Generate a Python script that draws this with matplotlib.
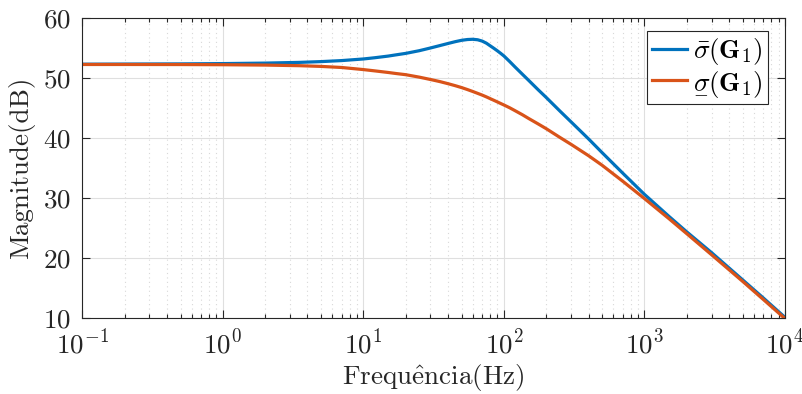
import numpy as np
import matplotlib
matplotlib.use("Agg")
import matplotlib.pyplot as plt
from matplotlib.ticker import LogLocator, NullFormatter

plt.rcParams['font.family'] = ['cmr10', 'DejaVu Serif']
plt.rcParams['mathtext.fontset'] = 'cm'
plt.rcParams['axes.formatter.use_mathtext'] = True

# Frequency samples (Hz)
freq = [0.1, 0.2, 0.5, 1, 2, 3.5, 5, 7, 10, 12, 15, 17, 20, 25, 30, 35, 40, 45,
        50, 55, 60, 65, 70, 75, 80, 85, 90, 95, 100, 110, 120, 135, 150, 175,
        200, 250, 300, 400, 500, 700, 1000, 1500, 2000, 3000, 5000, 7000, 10000]
# Maximum singular value (dB)
sigma_max = [52.35, 52.37, 52.4, 52.45, 52.53, 52.65, 52.78, 52.95, 53.22, 53.42,
             53.7, 53.9, 54.15, 54.6, 55.05, 55.45, 55.8, 56.1,
             56.33, 56.46, 56.5, 56.42, 56.2, 55.85, 55.4, 54.98, 54.56, 54.14,
             53.72, 52.78, 51.88, 50.7, 49.65, 48.1,
             46.8, 44.55, 42.75, 39.9, 37.6, 34.2, 30.65, 26.95, 24.4, 20.95, 16.4, 13.4, 10.15]
# Minimum singular value (dB)
sigma_min = [52.3, 52.3, 52.29, 52.26, 52.2, 52.1, 51.98, 51.8, 51.45, 51.24,
             50.97, 50.8, 50.6, 50.19, 49.8, 49.45, 49.1, 48.77,
             48.45, 48.12, 47.8, 47.49, 47.2, 46.9, 46.6, 46.32, 46.05, 45.79,
             45.55, 45.08, 44.6, 43.94, 43.3, 42.4,
             41.6, 40.15, 39.0, 37.1, 35.5, 32.85, 29.95, 26.57, 24.1, 20.6, 16.15, 13.15, 9.95]

xticks = [0.1, 1, 10, 100, 1000, 10000]
yticks = [10, 20, 30, 40, 50, 60]

c_blue = '#0072BD'
c_orange = '#D95319'
axc = '#262626'

fig = plt.figure(figsize=(8.03, 3.94), dpi=100)
ax = fig.add_axes([0.1025, 0.1921, 0.8751, 0.7615])

ax.semilogx(freq, sigma_max, color=c_blue, lw=2.3, solid_joinstyle='round',
            label=r'$\bar{\sigma}(\mathbf{G}_1)$')
ax.semilogx(freq, sigma_min, color=c_orange, lw=2.3, solid_joinstyle='round',
            label=r'$\underset{-}{\sigma}(\mathbf{G}_1)$')

ax.set_xlim(0.1, 10000)
ax.set_ylim(10, 60)
ax.set_xticks(xticks)
ax.set_yticks(yticks)
ax.xaxis.set_minor_locator(LogLocator(base=10, subs=np.arange(2, 10), numticks=20))
ax.xaxis.set_minor_formatter(NullFormatter())

ax.grid(True, which='major', color='#dfdfdf', lw=0.8, ls='-')
ax.grid(True, which='minor', axis='x', color='#d8d8d8', lw=0.8, ls=(0, (1, 3)))
ax.set_axisbelow(True)

ax.tick_params(which='both', direction='in', top=True, right=True, colors=axc,
               labelsize=19.5, width=0.8)
ax.tick_params(which='major', length=6)
ax.tick_params(which='minor', length=3)
ax.tick_params(axis='y', pad=8)
ax.tick_params(axis='x', pad=8)
for s in ax.spines.values():
    s.set_color(axc)
    s.set_linewidth(0.8)

ax.set_xlabel(r'$\mathrm{Frequ\hat{e}ncia(Hz)}$', fontsize=19.5, color=axc, labelpad=2)
ax.set_ylabel('Magnitude(dB)', fontsize=19.5, color=axc, labelpad=6)

leg = ax.legend(loc='upper right', bbox_to_anchor=(0.9754, 0.9577), borderaxespad=0,
                fontsize=19.5, handlelength=1.3, handletextpad=0.2,
                borderpad=0.2, labelspacing=0.1, fancybox=False, framealpha=1,
                edgecolor=axc)
leg.get_frame().set_linewidth(0.8)

fig.savefig('out.png', dpi=100)
